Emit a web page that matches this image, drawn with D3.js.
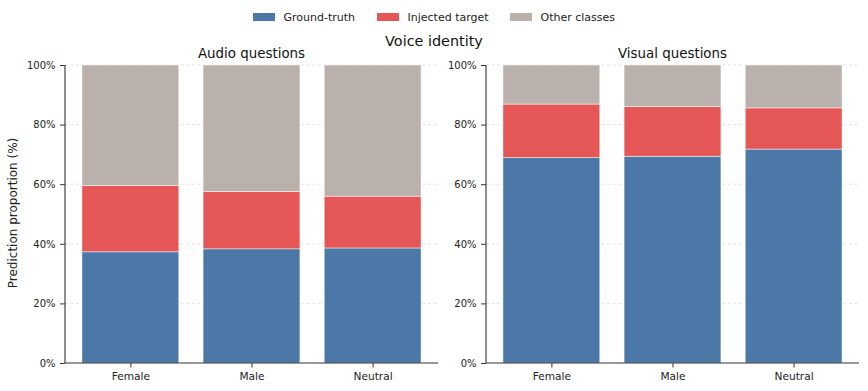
<!DOCTYPE html>
<html><head><meta charset="utf-8">
<script src="https://cdn.jsdelivr.net/npm/d3@7/dist/d3.min.js"></script>
<style>body{margin:0;background:#fff}svg{display:block;font-family:"DejaVu Sans",sans-serif}</style>
</head><body><svg id="c" width="868" height="391"></svg>
<script>
const categories = ["Female", "Male", "Neutral"];
const seriesNames = ["Ground-truth", "Injected target", "Other classes"];
const audioGroundTruth = [37.3, 38.3, 38.6];
const audioInjected = [22.2, 19.2, 17.4];
const visualGroundTruth = [68.9, 69.4, 71.8];
const visualInjected = [18.0, 16.6, 13.8];
const yTicks = [0, 20, 40, 60, 80, 100];
const panelTitles = ["Audio questions", "Visual questions"];
const colors = ["#4c78a8", "#e45756", "#bab0ac"];

(function () {
const svg = d3.select("#c");
const plotTop = 65, plotBottom = 363;
const panels = [
  {x0: 65, x1: 438, title: panelTitles[0], gt: audioGroundTruth, inj: audioInjected},
  {x0: 486, x1: 859, title: panelTitles[1], gt: visualGroundTruth, inj: visualInjected}
];
const y = d3.scaleLinear().domain([0, 100]).range([plotBottom, plotTop]);

panels.forEach(p => {
  const rows = categories.map((c, i) => ({cat: c, gt: p.gt[i], inj: p.inj[i], other: 100 - p.gt[i] - p.inj[i]}));
  const stack = d3.stack().keys(["gt", "inj", "other"])(rows);
  const xl = d3.scaleLinear().domain([-0.54, 2.54]).range([p.x0, p.x1]);
  const g = svg.append("g");
  g.selectAll("line.grid").data(yTicks.filter(t => t > 0)).join("line")
    .attr("x1", p.x0).attr("x2", p.x1).attr("y1", d => y(d)).attr("y2", d => y(d))
    .attr("stroke", "#d9d9d9").attr("stroke-width", 0.7).attr("stroke-dasharray", "3,2.5");
  stack.forEach((s, si) => {
    g.selectAll(null).data(s).join("rect")
      .attr("x", (d, i) => xl(i - 0.4)).attr("width", xl(0.8) - xl(0))
      .attr("y", d => y(d[1])).attr("height", d => y(d[0]) - y(d[1]))
      .attr("fill", colors[si]).attr("stroke", "#fff").attr("stroke-width", 0.5);
  });
  const yAxis = d3.axisLeft(y).tickValues(yTicks).tickFormat(d => d + "%").tickSize(5).tickPadding(4.5);
  const ga = g.append("g").attr("transform", `translate(${p.x0},0)`).call(yAxis);
  const xAxis = d3.axisBottom(xl).tickValues([0, 1, 2]).tickFormat(i => categories[i]).tickSize(4.5).tickPadding(5);
  const gx = g.append("g").attr("transform", `translate(0,${plotBottom})`).call(xAxis);
  [ga, gx].forEach(a => {
    a.select(".domain").attr("stroke", "#333").attr("stroke-width", 1.1);
    a.selectAll(".tick line").attr("stroke", "#333");
    a.selectAll(".tick text").attr("fill", "#222").attr("font-family", "DejaVu Sans");
  });
  ga.selectAll(".tick text").attr("font-size", 10);
  gx.selectAll(".tick text").attr("font-size", 10.6);
  ga.select(".domain").attr("d", `M0,${plotBottom}V${plotTop}`);
  gx.select(".domain").attr("d", `M${p.x0},0H${p.x1}`);
  g.append("text").attr("x", (p.x0 + p.x1) / 2).attr("y", 58).attr("text-anchor", "middle")
    .attr("font-size", 13.4).attr("fill", "#111").text(p.title);
});

svg.append("text").attr("transform", "translate(17,213) rotate(-90)").attr("text-anchor", "middle")
  .attr("font-size", 12).attr("fill", "#222").text("Prediction proportion (%)");
svg.append("text").attr("x", 434).attr("y", 46).attr("text-anchor", "middle")
  .attr("font-size", 14.4).attr("fill", "#111").text("Voice identity");

const legX = [253, 377, 510];
const leg = svg.append("g");
seriesNames.forEach((n, i) => {
  leg.append("rect").attr("x", legX[i]).attr("y", 13).attr("width", 22).attr("height", 8).attr("fill", colors[i]);
  leg.append("text").attr("x", legX[i] + 30.5).attr("y", 21).attr("font-size", 11).attr("fill", "#222").text(n);
});
})();
</script></body></html>
